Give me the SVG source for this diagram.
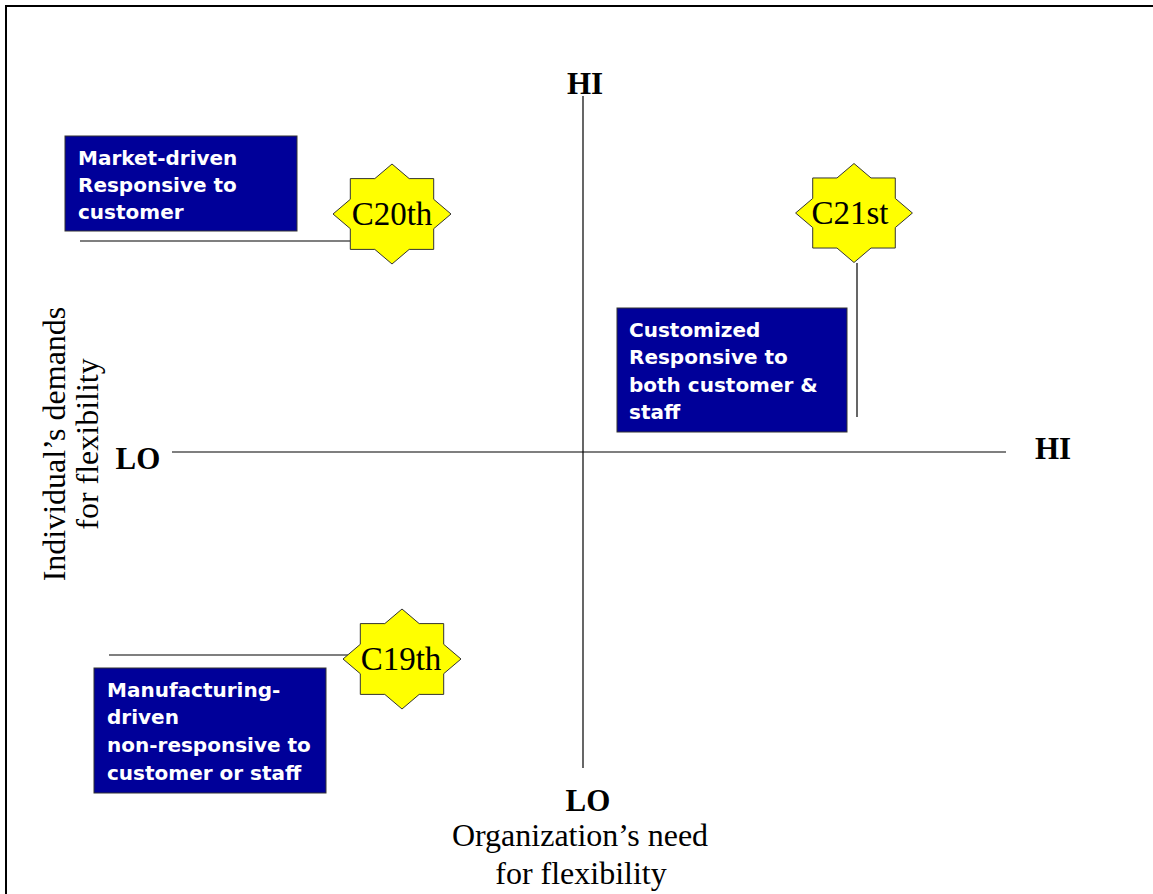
<svg xmlns="http://www.w3.org/2000/svg" width="1153" height="894" viewBox="0 0 1153 894">
<style>
.frame{fill:none;stroke:#000;stroke-width:2}
.ax{stroke:#000;stroke-width:1.2;fill:none}
.conn{stroke:#000;stroke-width:1.2;fill:none}
.star{fill:#ffff00;stroke:#333;stroke-width:1}
.box{fill:#000099;stroke:#333;stroke-width:1}
.bt{font-family:"DejaVu Sans",Verdana,sans-serif;font-weight:bold;font-size:20px;fill:#fff}
.st{font-family:"Liberation Serif","Times New Roman",serif;font-size:33px;fill:#000;text-anchor:middle}
.lbl{font-family:"Liberation Serif","Times New Roman",serif;font-size:31px;font-weight:bold;fill:#000}
.axt{font-family:"Liberation Serif","Times New Roman",serif;font-size:32px;fill:#000;text-anchor:middle}
</style>
<defs>
<path id="star8" d="M0,-50 L17.2,-35.4 L41.7,-35.4 L41.7,-14.7 L59,0 L41.7,14.7 L41.7,35.4 L17.2,35.4 L0,50 L-17.2,35.4 L-41.7,35.4 L-41.7,14.7 L-59,0 L-41.7,-14.7 L-41.7,-35.4 L-17.2,-35.4 Z"/>
</defs>
<path class="frame" d="M6,894 V6 H1153"/>
<g id="axes">
<line class="ax" x1="583" y1="96" x2="583" y2="768"/>
<line class="ax" x1="172" y1="452" x2="1006" y2="452"/>
</g>
<g id="axis-labels">
<text class="lbl" x="585" y="94" text-anchor="middle">HI</text>
<text class="lbl" x="1053" y="459" text-anchor="middle">HI</text>
<text class="lbl" x="138" y="469" text-anchor="middle">LO</text>
<text class="lbl" x="588" y="811" text-anchor="middle">LO</text>
<text class="axt" x="580" y="846">Organization’s need</text>
<text class="axt" x="581" y="884">for flexibility</text>
<g transform="translate(65,444) rotate(-90)">
<text class="axt" x="0" y="0">Individual’s demands</text>
<text class="axt" x="0" y="33">for flexibility</text>
</g>
</g>
<g id="connectors">
<line class="conn" x1="80" y1="241" x2="350" y2="241"/>
<line class="conn" x1="857" y1="263" x2="857" y2="417"/>
<line class="conn" x1="109" y1="655" x2="348" y2="655"/>
</g>
<g id="box-market">
<rect class="box" x="65" y="136" width="232" height="95"/>
<text class="bt" x="78" y="165">Market-driven</text>
<text class="bt" x="78" y="192">Responsive to</text>
<text class="bt" x="78" y="219">customer</text>
</g>
<g id="box-customized">
<rect class="box" x="617" y="308" width="230" height="124"/>
<text class="bt" x="629" y="337">Customized</text>
<text class="bt" x="629" y="364">Responsive to</text>
<text class="bt" x="629" y="392">both customer &amp;</text>
<text class="bt" x="629" y="419">staff</text>
</g>
<g id="box-manufacturing">
<rect class="box" x="94" y="668" width="232" height="125"/>
<text class="bt" x="107" y="697">Manufacturing-</text>
<text class="bt" x="107" y="724">driven</text>
<text class="bt" x="107" y="752">non-responsive to</text>
<text class="bt" x="107" y="780">customer or staff</text>
</g>
<g id="star-c20">
<use href="#star8" class="star" transform="translate(392,214)"/>
<text class="st" x="392" y="225">C20th</text>
</g>
<g id="star-c21">
<use href="#star8" class="star" transform="translate(854,213) scale(0.99,0.99)"/>
<text class="st" x="850" y="224">C21st</text>
</g>
<g id="star-c19">
<use href="#star8" class="star" transform="translate(402,659)"/>
<text class="st" x="401" y="670">C19th</text>
</g>
</svg>
